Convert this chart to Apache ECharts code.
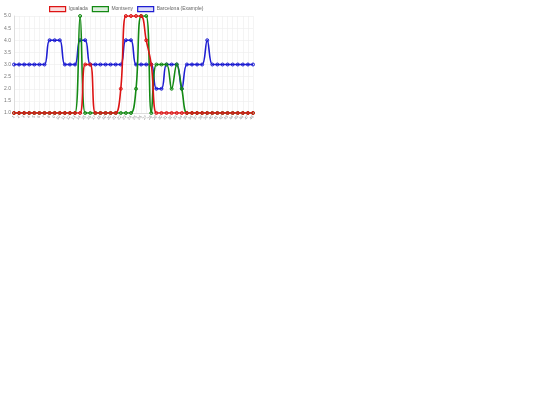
<!DOCTYPE html>
<html>
<head>
<meta charset="utf-8">
<script src="https://cdn.jsdelivr.net/npm/echarts@6/dist/echarts.min.js"></script>
<style>
html,body{margin:0;padding:0;background:#fff;}
#c{width:540px;height:405px;}
</style>
</head>
<body>
<div id="c"></div>
<script>
const categories = [];
for (let i = 1; i <= 48; i++) categories.push(String(i));

const igualada = [1,1,1,1,1,1,1,1,1,1,1,1,1,1,3,3,1,1,1,1,1,2,5,5,5,5,4,3,1,1,1,1,1,1,1,1,1,1,1,1,1,1,1,1,1,1,1,1];
const montseny = [1,1,1,1,1,1,1,1,1,1,1,1,1,5,1,1,1,1,1,1,1,1,1,1,2,5,5,1,3,3,3,2,3,2,1,1,1,1,1,1,1,1,1,1,1,1,1,1];
const barcelona = [3,3,3,3,3,3,3,4,4,4,3,3,3,4,4,3,3,3,3,3,3,3,4,4,3,3,3,3,2,2,3,3,3,2,3,3,3,3,4,3,3,3,3,3,3,3,3,3];

const names = ['Igualada', 'Montseny', 'Barcelona (Example)'];
const colors = ['#dd1414', '#148a14', '#1e1ed2'];
const fills = ['rgba(221,20,20,0.15)', 'rgba(20,138,20,0.15)', 'rgba(30,30,210,0.15)'];
const yTicks = [1, 5, 0.5];

const chart = echarts.init(document.getElementById('c'), null, {renderer: 'canvas'});

function mk(i, data, z) {
  return {
    name: names[i], type: 'line', data: data, smooth: 0.4, z: z,
    symbol: 'circle', symbolSize: 3,
    lineStyle: {color: colors[i], width: 1.6},
    itemStyle: {color: fills[i], borderColor: colors[i], borderWidth: 1},
    emphasis: {disabled: true}
  };
}

chart.setOption({
  animation: false,
  legend: {
    top: 4, left: 44, padding: [2, 5],
    itemWidth: 16, itemHeight: 5, itemGap: 4,
    icon: 'rect',
    textStyle: {fontSize: 5, color: '#666', fontFamily: 'Liberation Sans, Arial', padding: [0,0,0,-2]},
    data: names.map((n, i) => ({name: n, itemStyle: {color: fills[i], borderColor: colors[i], borderWidth: 1.2}}))
  },
  grid: {left: 14, right: 287, top: 16, bottom: 292, containLabel: false},
  xAxis: {
    type: 'category', data: categories, boundaryGap: false,
    axisLine: {lineStyle: {color: '#ddd'}},
    axisTick: {show: false},
    axisLabel: {interval: 0, rotate: 50, fontSize: 4, color: '#888', margin: 3, fontFamily: 'Liberation Sans, Arial'},
    splitLine: {show: true, lineStyle: {color: '#ececec', width: 0.6}}
  },
  yAxis: {
    type: 'value', min: yTicks[0], max: yTicks[1], interval: yTicks[2],
    axisLine: {show: true, lineStyle: {color: '#ddd'}},
    axisTick: {show: false},
    axisLabel: {fontSize: 5, color: '#777', margin: 3, formatter: v => v.toFixed(1), fontFamily: 'Liberation Sans, Arial'},
    splitLine: {lineStyle: {color: '#ececec', width: 0.6}}
  },
  series: [mk(0, igualada, 4), mk(1, montseny, 3), mk(2, barcelona, 2)]
});
</script>
</body>
</html>
